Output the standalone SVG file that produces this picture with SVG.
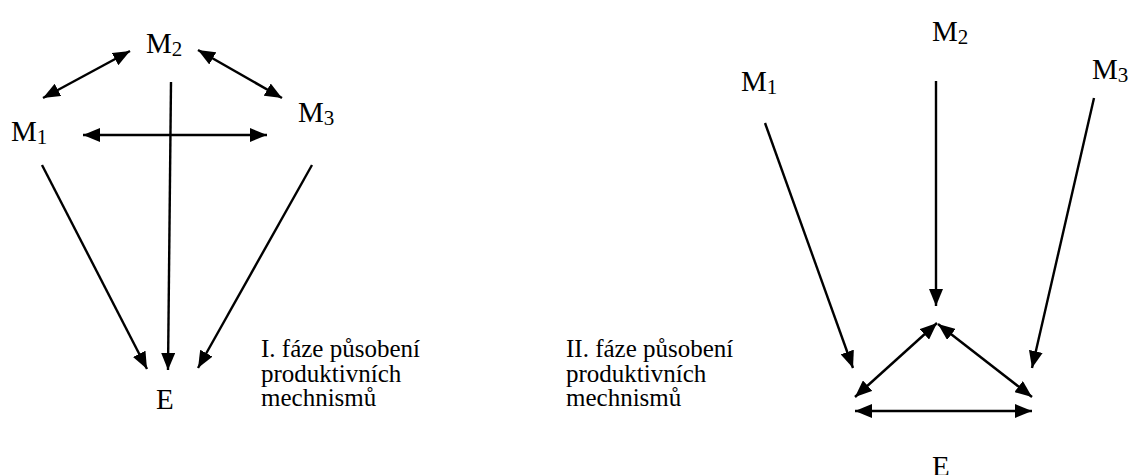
<svg xmlns="http://www.w3.org/2000/svg" width="1136" height="475" viewBox="0 0 1136 475">
<style>
  text { font-family: "Liberation Serif", "Times New Roman", serif; fill: #000; }
  .node { font-size: 29px; }
  .sub { font-size: 21px; }
  .lbl { font-size: 25px; }
  .c { stroke: #000; stroke-width: 2.4; fill: none; }
</style>
<defs>
  <marker id="ah" markerUnits="userSpaceOnUse" markerWidth="18" markerHeight="14" refX="17" refY="7" orient="auto-start-reverse">
    <path d="M0,0 L17,7 L0,14 z" fill="#000"/>
  </marker>
</defs>
<rect width="1136" height="475" fill="#fff"/>

<g id="connectors">
  <line class="c" x1="43" y1="98" x2="130" y2="51" marker-start="url(#ah)" marker-end="url(#ah)"/>
  <line class="c" x1="198" y1="50" x2="282" y2="98" marker-start="url(#ah)" marker-end="url(#ah)"/>
  <line class="c" x1="83" y1="135" x2="267" y2="135" marker-start="url(#ah)" marker-end="url(#ah)"/>
  <line class="c" x1="171" y1="82" x2="168" y2="370" marker-end="url(#ah)"/>
  <line class="c" x1="42" y1="165" x2="147" y2="369" marker-end="url(#ah)"/>
  <line class="c" x1="312" y1="165" x2="198" y2="368" marker-end="url(#ah)"/>

  <line class="c" x1="765" y1="123" x2="853" y2="368" marker-end="url(#ah)"/>
  <line class="c" x1="936" y1="81" x2="936" y2="306" marker-end="url(#ah)"/>
  <line class="c" x1="1094" y1="98" x2="1032" y2="368" marker-end="url(#ah)"/>
  <line class="c" x1="855" y1="397" x2="937" y2="323" marker-start="url(#ah)" marker-end="url(#ah)"/>
  <line class="c" x1="938" y1="324" x2="1032" y2="397" marker-start="url(#ah)" marker-end="url(#ah)"/>
  <line class="c" x1="855" y1="411" x2="1032" y2="411" marker-start="url(#ah)" marker-end="url(#ah)"/>
</g>

<g id="L-M2"><text class="node" x="146" y="53">M<tspan class="sub" dy="3">2</tspan></text></g>
<g id="L-M1"><text class="node" x="11" y="141">M<tspan class="sub" dy="3">1</tspan></text></g>
<g id="L-M3"><text class="node" x="298" y="122">M<tspan class="sub" dy="3">3</tspan></text></g>
<g id="L-E"><text class="node" x="156" y="409">E</text></g>
<g id="L-label">
  <text class="lbl" x="261" y="357">I. fáze působení</text>
  <text class="lbl" x="261" y="382">produktivních</text>
  <text class="lbl" x="261" y="406">mechnismů</text>
</g>

<g id="R-M1"><text class="node" x="741" y="91">M<tspan class="sub" dy="3">1</tspan></text></g>
<g id="R-M2"><text class="node" x="932" y="41">M<tspan class="sub" dy="3">2</tspan></text></g>
<g id="R-M3"><text class="node" x="1092" y="79">M<tspan class="sub" dy="3">3</tspan></text></g>
<g id="R-E"><text class="node" x="932" y="476">E</text></g>
<g id="R-label">
  <text class="lbl" x="566" y="357">II. fáze působení</text>
  <text class="lbl" x="566" y="382">produktivních</text>
  <text class="lbl" x="566" y="406">mechnismů</text>
</g>
</svg>
